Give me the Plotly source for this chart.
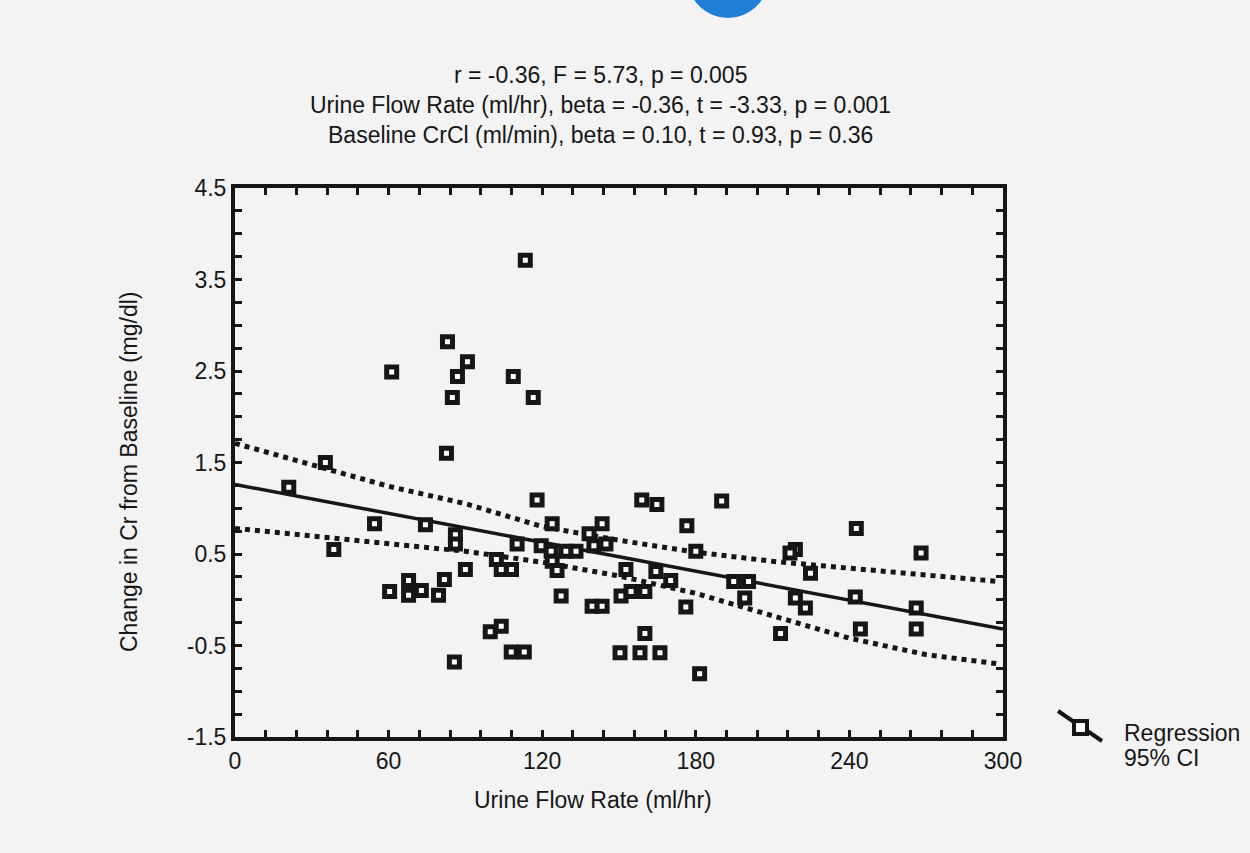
import plotly.graph_objects as go

# ---------------- data ----------------
urine_flow = [113.4, 83.0, 90.8, 61.2, 86.9, 108.7, 84.9, 116.5, 82.6, 35.3,
              21.0, 118.0, 54.5, 74.4, 123.9, 86.1, 86.1, 38.6, 110.2, 119.6,
              123.5, 129.3, 133.2, 138.3, 140.2, 143.4, 144.9, 123.9, 102.1, 104.0,
              108.0, 125.8, 90.0, 60.4, 67.8, 67.8, 72.8, 81.8, 79.5, 127.4,
              99.7, 104.0, 107.9, 113.0, 85.7, 139.5, 143.4, 158.9, 164.8, 190.1,
              176.5, 180.0, 152.7, 164.4, 170.2, 150.8, 154.7, 160.1, 160.1, 150.4,
              158.2, 166.0, 181.5, 176.1, 194.8, 200.6, 199.1, 213.1, 218.9, 216.8,
              224.8, 218.9, 222.8, 242.7, 242.3, 244.3, 268.0, 266.1, 266.1]
cr_change = [3.71, 2.82, 2.60, 2.49, 2.44, 2.44, 2.21, 2.21, 1.60, 1.50,
             1.23, 1.09, 0.83, 0.82, 0.83, 0.71, 0.61, 0.55, 0.61, 0.59,
             0.53, 0.53, 0.53, 0.72, 0.59, 0.83, 0.61, 0.42, 0.44, 0.33,
             0.33, 0.32, 0.33, 0.09, 0.21, 0.05, 0.10, 0.22, 0.05, 0.04,
             -0.35, -0.29, -0.57, -0.57, -0.68, -0.07, -0.07, 1.09, 1.04, 1.08,
             0.81, 0.53, 0.33, 0.31, 0.21, 0.04, 0.09, 0.09, -0.37, -0.58,
             -0.58, -0.58, -0.81, -0.08, 0.20, 0.20, 0.02, -0.37, 0.55, 0.51,
             0.29, 0.02, -0.09, 0.78, 0.03, -0.32, 0.51, -0.09, -0.32]

reg_x = [0, 300]
reg_y = [1.26, -0.32]

ci_x = [0, 30, 60, 90, 120, 150, 180, 210, 240, 270, 298]
ci_upper = [1.71, 1.47, 1.24, 1.05, 0.80, 0.65, 0.52, 0.42, 0.34, 0.27, 0.20]
ci_lower = [0.78, 0.70, 0.61, 0.53, 0.41, 0.26, 0.07, -0.18, -0.42, -0.60, -0.70]

x_tick_labels = ["0", "60", "120", "180", "240", "300"]
y_tick_labels = ["-1.5", "-0.5", "0.5", "1.5", "2.5", "3.5", "4.5"]

title_lines = ["r = -0.36, F = 5.73, p = 0.005",
               "Urine Flow Rate (ml/hr), beta = -0.36, t = -3.33, p = 0.001",
               "Baseline CrCl (ml/min), beta = 0.10, t = 0.93, p = 0.36"]
x_title = "Urine Flow Rate (ml/hr)"
y_title = "Change in Cr from Baseline (mg/dl)"
legend_lines = ["Regression", "95% CI"]

# ---------------- layout geometry ----------------
W, H = 1250, 853
ML, MR, MT, MB = 235, 247, 188, 116
PW, PH = W - ML - MR, H - MT - MB
INK = "#161616"
BG = "#f3f3f3"
FONT = "Liberation Sans, Arial, sans-serif"
FS = 23


def px(xp):
    return (xp - ML) / PW


def py(yp):
    return (H - MB - yp) / PH


# tick positions: minor every 12 on x, every 0.25 on y
x_major = [float(t) for t in x_tick_labels]
y_major = [float(t) for t in y_tick_labels]
x_step = (x_major[1] - x_major[0]) / 5
y_step = (y_major[1] - y_major[0]) / 4
x_tickvals = [x_major[0] + i * x_step for i in range(int(round((x_major[-1] - x_major[0]) / x_step)) + 1)]
y_tickvals = [y_major[0] + i * y_step for i in range(int(round((y_major[-1] - y_major[0]) / y_step)) + 1)]


def lab(v, majors, labels):
    for m, l in zip(majors, labels):
        if abs(v - m) < 1e-6:
            return l
    return ""


x_ticktext = [lab(v, x_major, x_tick_labels) for v in x_tickvals]
y_ticktext = [lab(v, y_major, y_tick_labels) for v in y_tickvals]

fig = go.Figure()

fig.add_trace(go.Scatter(x=ci_x, y=ci_upper, mode="lines",
                         line=dict(color=INK, width=5, dash="5px,5px"),
                         hoverinfo="skip", showlegend=False))
fig.add_trace(go.Scatter(x=ci_x, y=ci_lower, mode="lines",
                         line=dict(color=INK, width=5, dash="5px,5px"),
                         hoverinfo="skip", showlegend=False))
fig.add_trace(go.Scatter(x=reg_x, y=reg_y, mode="lines",
                         line=dict(color=INK, width=3.5),
                         hoverinfo="skip", showlegend=False))
fig.add_trace(go.Scatter(x=urine_flow, y=cr_change, mode="markers",
                         marker=dict(symbol="square", size=10, color="white",
                                     line=dict(color=INK, width=5)),
                         showlegend=False))

axis_common = dict(showline=True, linecolor=INK, linewidth=4, mirror="ticks",
                   ticks="inside", ticklen=7, tickwidth=3, tickcolor=INK,
                   showgrid=False, zeroline=False,
                   tickfont=dict(family=FONT, size=FS, color=INK))

fig.update_xaxes(range=[x_major[0], x_major[-1]], tickmode="array",
                 tickvals=x_tickvals, ticktext=x_ticktext, **axis_common)
fig.update_yaxes(range=[y_major[0], y_major[-1]], tickmode="array",
                 tickvals=y_tickvals, ticktext=y_ticktext, **axis_common)

annotations = []
for i, t in enumerate(title_lines):
    annotations.append(dict(text=t, x=px(600), y=py(75 + 30 * i), xref="paper", yref="paper",
                            showarrow=False, xanchor="center", yanchor="middle",
                            font=dict(family=FONT, size=FS, color=INK)))
annotations.append(dict(text=x_title, x=px(593), y=py(800), xref="paper", yref="paper",
                        showarrow=False, xanchor="center", yanchor="middle",
                        font=dict(family=FONT, size=FS, color=INK)))
annotations.append(dict(text=y_title, x=px(129), y=py(472), xref="paper", yref="paper",
                        showarrow=False, xanchor="center", yanchor="middle", textangle=-90,
                        font=dict(family=FONT, size=FS, color=INK)))
for i, t in enumerate(legend_lines):
    annotations.append(dict(text=t, x=px(1122), y=py(733 + 25 * i), xref="paper", yref="paper",
                            showarrow=False, xanchor="left", yanchor="middle",
                            font=dict(family=FONT, size=FS, color=INK)))

shapes = [
    # legend key: slanted line with square marker
    dict(type="line", xref="paper", yref="paper", x0=px(1058), y0=py(711), x1=px(1102), y1=py(741),
         line=dict(color=INK, width=4)),
    dict(type="rect", xref="paper", yref="paper", x0=px(1074), y0=py(721), x1=px(1087), y1=py(734),
         line=dict(color=INK, width=4), fillcolor="white"),
    # blue mark at the top edge of the scanned page
    dict(type="circle", xref="paper", yref="paper", x0=px(688), y0=py(-60), x1=px(768), y1=py(18),
         line=dict(width=0), fillcolor="#1f7fd6"),
]

fig.update_layout(width=W, height=H, margin=dict(l=ML, r=MR, t=MT, b=MB, pad=0),
                  paper_bgcolor=BG, plot_bgcolor=BG, annotations=annotations, shapes=shapes,
                  showlegend=False, font=dict(family=FONT, size=FS, color=INK))

fig.write_html("out.html")
